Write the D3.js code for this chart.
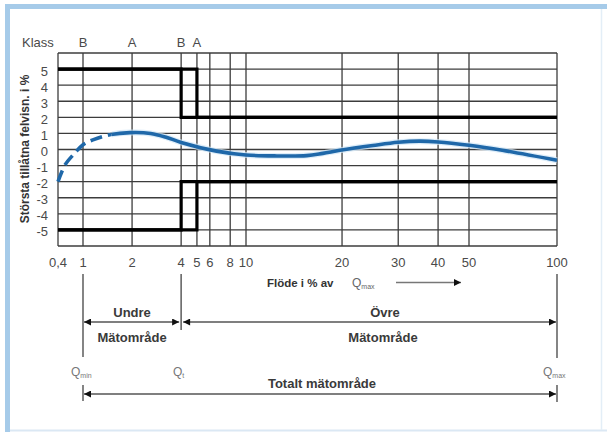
<!DOCTYPE html>
<html><head><meta charset="utf-8">
<script src="https://cdn.jsdelivr.net/npm/d3@7"></script>
<style>
html,body{margin:0;padding:0;background:#fff;}
svg{display:block;font-family:"Liberation Sans",Arial,sans-serif;}
</style></head>
<body>
<svg id="c" width="607" height="432"></svg>
<script>
// ---- data ----
const xTicks = [0.4, 1, 2, 4, 5, 6, 8, 10, 20, 30, 40, 50, 100];
const xTickLabels = ["0,4", "1", "2", "4", "5", "6", "8", "10", "20", "30", "40", "50", "100"];
const xGrid = [1, 2, 4, 5, 6, 8, 10, 20, 30, 40, 50];
const yTicks = [5, 4, 3, 2, 1, 0, -1, -2, -3, -4, -5];
const yGrid = [-6, -5, -4, -3, -2, -1, 0, 1, 2, 3, 4, 5, 6];
const klassX = [1, 2, 4, 5];
const klassLabels = ["B", "A", "B", "A"];
// class limits (upper); lower is mirrored
const limitB = {x: [0.4, 4, 4, 100], y: [5, 5, 2, 2]};
const limitA = {x: [0.4, 5, 5, 100], y: [5, 5, 2, 2]};
// typical error curve
const curveX = [0.4, 0.52, 0.75, 1, 1.15, 1.46, 1.94, 2.6, 3.2, 4, 6.6, 10, 12.5, 15.5, 17.4, 19.7, 25, 30, 35, 40, 50, 65, 100];
const curveY = [-2.0, -0.95, -0.2, 0.3, 0.6, 0.92, 1.05, 1.0, 0.78, 0.44, -0.1, -0.34, -0.4, -0.38, -0.24, -0.05, 0.25, 0.45, 0.52, 0.47, 0.26, -0.05, -0.67];
const dashedUntil = 1.5;

const svg = d3.select("#c");

// frame
svg.append("rect").attr("x",5).attr("y",4).attr("width",602).attr("height",5).attr("fill","#a6cbe9");
svg.append("rect").attr("x",5).attr("y",4).attr("width",5).attr("height",428).attr("fill","#a6cbe9");
svg.append("line").attr("x1",10).attr("x2",607).attr("y1",430.5).attr("y2",430.5).attr("stroke","#dbe8f4").attr("stroke-width",2);
svg.append("line").attr("x1",601.5).attr("x2",601.5).attr("y1",9).attr("y2",430).attr("stroke","#e3eef7").attr("stroke-width",1.5);

const x = d3.scaleLog().domain([0.4, 1, 10, 50, 100]).range([58, 83, 246, 469, 557]);
const y = d3.scaleLinear().domain([-6, 6]).range([246, 53]);

const g = svg.append("g");
// grid
g.selectAll(".hg").data(yGrid).join("line")
  .attr("x1", x(0.4)).attr("x2", x(100))
  .attr("y1", d => y(d)).attr("y2", d => y(d))
  .attr("stroke", "#3c3c3c").attr("stroke-width", 1.3);
g.selectAll(".vg").data([0.4].concat(xGrid, [100])).join("line")
  .attr("x1", d => x(d)).attr("x2", d => x(d))
  .attr("y1", y(6)).attr("y2", y(-6))
  .attr("stroke", "#3c3c3c").attr("stroke-width", 1.3);

// limit lines
const lim = d3.line().x(d => x(d[0])).y(d => y(d[1]));
[limitB, limitA].forEach(L => {
  const up = L.x.map((v, i) => [v, L.y[i]]);
  const dn = L.x.map((v, i) => [v, -L.y[i]]);
  [up, dn].forEach(p => g.append("path").attr("d", lim(p)).attr("fill", "none")
    .attr("stroke", "#000").attr("stroke-width", 3.2).attr("stroke-linejoin", "miter"));
});

// curve
const pts = curveX.map((v, i) => [v, curveY[i]]);
const cl = d3.line().x(d => x(d[0])).y(d => y(d[1])).curve(d3.curveCatmullRom.alpha(0.5));
const defs = svg.append("defs");
defs.append("clipPath").attr("id", "cDash").append("rect")
  .attr("x", 0).attr("y", 0).attr("width", x(dashedUntil)).attr("height", 432);
defs.append("clipPath").attr("id", "cSolid").append("rect")
  .attr("x", x(dashedUntil)).attr("y", 0).attr("width", 607).attr("height", 432);
g.append("path").attr("d", cl(pts)).attr("fill", "none").attr("stroke", "#cfe6f7")
  .attr("stroke-width", 6).attr("clip-path", "url(#cSolid)").attr("opacity", 0.7);
g.append("path").attr("d", cl(pts)).attr("fill", "none").attr("stroke", "#1f68a9")
  .attr("stroke-width", 3.6).attr("clip-path", "url(#cSolid)");
g.append("path").attr("d", cl(pts)).attr("fill", "none").attr("stroke", "#1f68a9")
  .attr("stroke-width", 3.6).attr("stroke-dasharray", "12,6").attr("clip-path", "url(#cDash)");

// axis labels
const tc = "#4a4a4a";
svg.selectAll(".yl").data(yTicks).join("text")
  .attr("x", 48).attr("y", d => y(d) + 6.5).attr("text-anchor", "end")
  .attr("font-size", 13).attr("fill", tc).text(d => d);
svg.selectAll(".xl").data(xTicks).join("text")
  .attr("x", d => x(d)).attr("y", 267).attr("text-anchor", "middle")
  .attr("font-size", 13).attr("fill", tc).text((d, i) => xTickLabels[i]);
svg.append("text").attr("x", 22).attr("y", 47).attr("font-size", 13).attr("fill", tc).text("Klass");
svg.selectAll(".kl").data(klassX).join("text")
  .attr("x", d => x(d)).attr("y", 47).attr("text-anchor", "middle")
  .attr("font-size", 13).attr("fill", tc).text((d, i) => klassLabels[i]);
svg.append("text").attr("transform", "translate(29,149) rotate(-90)")
  .attr("text-anchor", "middle").attr("font-size", 12).attr("font-weight", "bold")
  .attr("fill", "#333").text("Största tillåtna felvisn. i %");

// x title
const xt = svg.append("text").attr("x", 267).attr("y", 287).attr("font-size", 11.5)
  .attr("font-weight", "bold").attr("fill", "#333");
xt.append("tspan").text("Flöde i % av ");
const q1 = svg.append("text").attr("x", 352).attr("y", 287).attr("font-size", 12).attr("fill", "#666");
q1.append("tspan").text("Q");
q1.append("tspan").attr("font-size", 7).attr("dy", 2).text("max");

// arrow marker
defs.append("marker").attr("id", "ah").attr("viewBox", "0 0 10 10").attr("refX", 10).attr("refY", 5)
  .attr("markerWidth", 9).attr("markerHeight", 7).attr("markerUnits", "userSpaceOnUse")
  .attr("orient", "auto-start-reverse")
  .append("path").attr("d", "M0,0L10,5L0,10Z").attr("fill", "#111");

svg.append("line").attr("x1", 396).attr("x2", 461).attr("y1", 282.5).attr("y2", 282.5)
  .attr("stroke", "#777").attr("stroke-width", 1.5).attr("marker-end", "url(#ah)");

// range annotations
const lc = "#666";
[[x(1), 274, 357], [x(4), 274, 330], [x(100), 274, 358]].forEach(d =>
  svg.append("line").attr("x1", d[0]).attr("x2", d[0]).attr("y1", d[1]).attr("y2", d[2])
    .attr("stroke", lc).attr("stroke-width", 1.6));
[[x(1), 385, 401], [x(100), 385, 402]].forEach(d =>
  svg.append("line").attr("x1", d[0]).attr("x2", d[0]).attr("y1", d[1]).attr("y2", d[2])
    .attr("stroke", lc).attr("stroke-width", 1.6));

function arrow(x1, x2, yy) {
  svg.append("line").attr("x1", x1).attr("x2", x2).attr("y1", yy).attr("y2", yy)
    .attr("stroke", "#555").attr("stroke-width", 1.6)
    .attr("marker-start", "url(#ah)").attr("marker-end", "url(#ah)");
}
arrow(x(1) + 1, x(4) - 2, 322);
arrow(x(4) + 2, x(100) - 1, 322);
arrow(x(1) + 1, x(100) - 1, 394);

function lab(t, xx, yy) {
  svg.append("text").attr("x", xx).attr("y", yy).attr("text-anchor", "middle")
    .attr("font-size", 13).attr("font-weight", "bold").attr("fill", "#3a3a3a").text(t);
}
lab("Undre", (x(1) + x(4)) / 2, 317);
lab("Mätområde", (x(1) + x(4)) / 2, 342);
lab("Övre", 385, 317);
lab("Mätområde", 383, 342);
lab("Totalt mätområde", 322, 388);

function qlab(sub, xx) {
  const t = svg.append("text").attr("x", xx).attr("y", 376).attr("font-size", 12).attr("fill", "#777");
  t.append("tspan").text("Q");
  t.append("tspan").attr("font-size", 7).attr("dy", 2).text(sub);
}
qlab("min", 71);
qlab("t", 173);
qlab("max", 543);
</script>
</body></html>
